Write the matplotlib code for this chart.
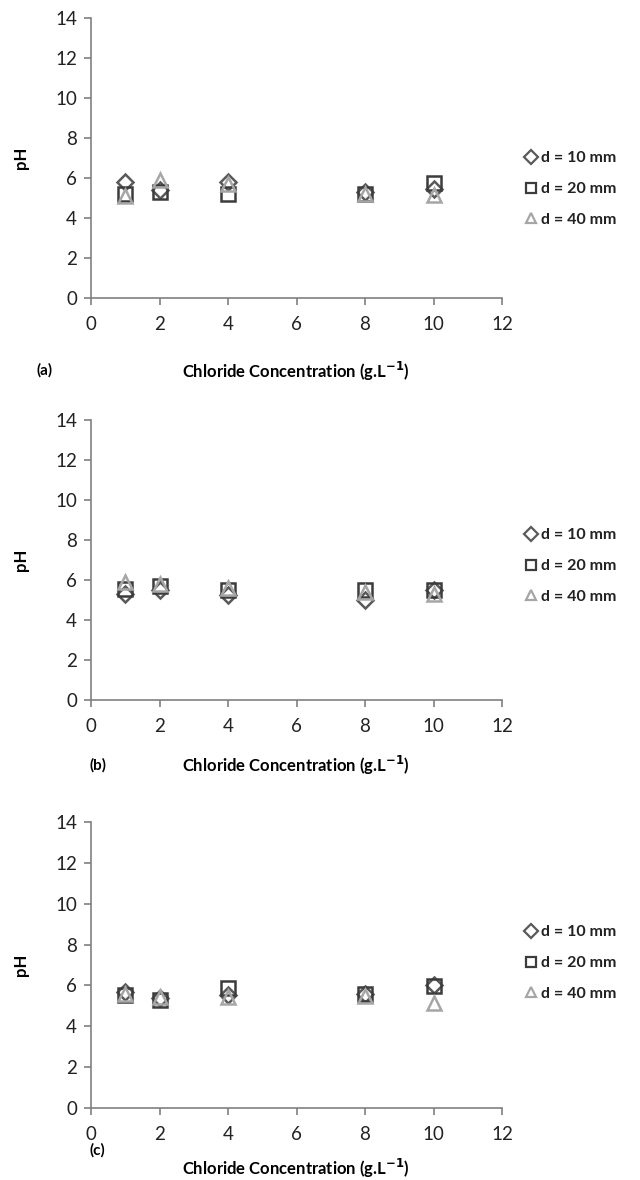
import matplotlib
matplotlib.use('Agg')
import matplotlib.pyplot as plt
import matplotlib.transforms as mtransforms

plt.rcParams['font.family'] = ['Lato', 'DejaVu Sans']

conc = [1, 2, 4, 8, 10]

# pH values: d = 10, 20, 40 mm
ph_a_10 = [5.8, 5.4, 5.8, 5.3, 5.45]
ph_a_20 = [5.2, 5.3, 5.2, 5.2, 5.75]
ph_a_40 = [5.1, 5.9, 5.7, 5.2, 5.15]

ph_b_10 = [5.3, 5.5, 5.25, 5.0, 5.5]
ph_b_20 = [5.55, 5.7, 5.5, 5.5, 5.5]
ph_b_40 = [5.9, 5.8, 5.6, 5.4, 5.3]

ph_c_10 = [5.7, 5.4, 5.55, 5.6, 6.0]
ph_c_20 = [5.55, 5.3, 5.85, 5.6, 5.95]
ph_c_40 = [5.6, 5.45, 5.45, 5.5, 5.15]

series_labels = ['d = 10 mm', 'd = 20 mm', 'd = 40 mm']
panel_tags = ['(a)', '(b)', '(c)']

panels = [
    (ph_a_10, ph_a_20, ph_a_40),
    (ph_b_10, ph_b_20, ph_b_40),
    (ph_c_10, ph_c_20, ph_c_40),
]

W, H = 640, 1180
fig = plt.figure(figsize=(W / 100, H / 100), dpi=100)

# axes boxes in pixels: left, top, right, bottom
boxes = [(91, 18, 502, 298), (91, 420, 502, 700), (91, 822, 502, 1108)]
xlabel_y = [371, 765, 1168]
tag_pos = [(45, 370), (98, 765), (97, 1150)]
legend_top = [163, 540, 937]

styles = [
    dict(marker='D', color='#5a5a5a', ms=8),
    dict(marker='s', color='#3c3c3c', ms=10.5),
    dict(marker='^', color='#a6a6a6', ms=10.5),
]

for i, (series, box) in enumerate(zip(panels, boxes)):
    l, t, r, b = box
    ax = fig.add_axes([l / W, 1 - b / H, (r - l) / W, (b - t) / H])
    for vals, st, lab in zip(series, styles, series_labels):
        ax.plot(conc, vals, linestyle='none', marker=st['marker'],
                markersize=st['ms'], markerfacecolor='none',
                markeredgecolor=st['color'], markeredgewidth=1.8, label=lab)
    ax.set_xlim(0, 12)
    ax.set_ylim(0, 14)
    ax.set_xticks(range(0, 13, 2))
    ax.set_yticks(range(0, 15, 2))
    for s in ['top', 'right']:
        ax.spines[s].set_visible(False)
    for s in ['left', 'bottom']:
        ax.spines[s].set_color('#808080')
        ax.spines[s].set_linewidth(1.2)
    ax.tick_params(colors='#808080', labelcolor='#222222', labelsize=13.5,
                   length=5, width=1.2, direction='out')
    ax.tick_params(axis='x', pad=8)
    ax.tick_params(axis='y', pad=5)
    ax.set_ylabel('pH', fontsize=12, fontweight='bold')
    trans = mtransforms.blended_transform_factory(fig.transFigure, ax.transAxes)
    ax.yaxis.set_label_coords(29 / W, 0.5, transform=trans)
    fig.text(296 / W, 1 - xlabel_y[i] / H, 'Chloride Concentration (g.L$^{\\mathbf{-1}}$)',
             ha='center', va='center', fontsize=12, fontweight='bold')
    fig.text(tag_pos[i][0] / W, 1 - tag_pos[i][1] / H, panel_tags[i],
             ha='center', va='center', fontsize=11, fontweight='bold')
    leg = ax.legend(loc='upper left', bbox_to_anchor=(526 / W, 1 - (legend_top[i] - 12) / H),
                    bbox_transform=fig.transFigure, frameon=False, fontsize=11.5,
                    handlelength=0.6, handletextpad=0.35, labelspacing=1.05,
                    borderaxespad=0, borderpad=0)
    for txt in leg.get_texts():
        txt.set_fontweight('bold')
        txt.set_color('#222222')
    for h in leg.legend_handles:
        h.set_markersize(7.5)
        h.set_markeredgewidth(1.6)

fig.savefig('out.png', dpi=100)
